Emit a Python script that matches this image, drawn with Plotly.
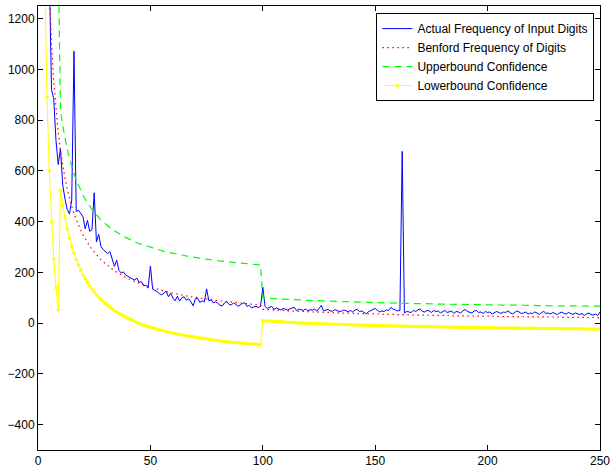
import plotly.graph_objects as go

# digit index on the x axis (1-9 first digit, 10-99 first two, 100-250 first three)
digits = list(range(1, 251))

actual = [
    4900, 2850, 2000, 1560, 1400, 921, 884, 720, 625,
    688, 545, 490, 448, 430, 485, 1072, 440, 445, 432,
    420, 372, 405, 362, 368, 514, 320, 350, 302, 290,
    280, 274, 282, 250, 224, 248, 208, 198, 202, 190,
    184, 178, 174, 170, 177, 160, 164, 147, 150, 138,
    225, 134, 130, 124, 116, 112, 118, 126, 104, 118,
    99, 88, 106, 87, 100, 104, 90, 96, 84, 68,
    96, 98, 82, 88, 84, 135, 88, 92, 80, 84,
    78, 70, 68, 80, 85, 74, 72, 80, 74, 66,
    72, 78, 80, 66, 70, 60, 64, 66, 62, 66,
    142, 66, 58, 62, 66, 54, 60, 56, 52, 58,
    55, 52, 56, 60, 63, 49, 55, 53, 50, 56,
    49, 53, 51, 56, 47, 58, 70, 48, 52, 54,
    48, 47, 53, 50, 46, 47, 52, 49, 45, 50,
    44, 52, 54, 46, 48, 42, 37, 45, 50, 54,
    58, 50, 44, 48, 46, 52, 50, 62, 55, 52,
    48, 50, 677, 40, 46, 44, 42, 50, 46, 52,
    56, 46, 44, 50, 48, 42, 50, 46, 48, 40,
    44, 50, 42, 46, 48, 38, 46, 44, 40, 48,
    54, 46, 44, 40, 48, 50, 42, 44, 38, 46,
    42, 44, 36, 40, 46, 42, 38, 44, 42, 48,
    40, 36, 42, 48, 44, 38, 40, 44, 36, 40,
    38, 44, 40, 34, 42, 46, 38, 40, 36, 42,
    38, 34, 40, 44, 38, 36, 42, 38, 34, 40,
    36, 34, 38, 30, 36, 40, 34, 32, 36, 30,
    44,
]

benford = [
    4946, 2893, 2053, 1592, 1301, 1100, 953, 840, 752,
    680, 620, 571, 529, 492, 460, 432, 408, 386, 366,
    348, 332, 317, 304, 291, 280, 269, 259, 250, 242,
    234, 227, 220, 213, 207, 201, 195, 190, 185, 181,
    176, 172, 168, 164, 160, 157, 153, 150, 147, 144,
    141, 139, 136, 133, 131, 129, 126, 124, 122, 120,
    118, 116, 114, 112, 111, 109, 107, 106, 104, 103,
    101, 100, 98, 97, 96, 95, 93, 92, 91, 90,
    89, 88, 86, 85, 84, 83, 82, 81, 81, 80,
    79, 78, 77, 76, 75, 75, 74, 73, 72, 72,
    54, 54, 53, 53, 52, 52, 51, 51, 50, 50,
    49, 49, 48, 48, 47, 47, 47, 46, 46, 45,
    45, 45, 44, 44, 44, 43, 43, 43, 42, 42,
    42, 41, 41, 41, 40, 40, 40, 40, 39, 39,
    39, 38, 38, 38, 38, 37, 37, 37, 37, 36,
    36, 36, 36, 35, 35, 35, 35, 35, 34, 34,
    34, 34, 33, 33, 33, 33, 33, 32, 32, 32,
    32, 32, 32, 31, 31, 31, 31, 31, 30, 30,
    30, 30, 30, 30, 29, 29, 29, 29, 29, 29,
    29, 28, 28, 28, 28, 28, 28, 28, 27, 27,
    27, 27, 27, 27, 27, 26, 26, 26, 26, 26,
    26, 26, 26, 25, 25, 25, 25, 25, 25, 25,
    25, 25, 24, 24, 24, 24, 24, 24, 24, 24,
    24, 24, 23, 23, 23, 23, 23, 23, 23, 23,
    23, 23, 22, 22, 22, 22, 22, 22, 22, 22,
    22,
]

upper = [
    5646, 3593, 2753, 2292, 2001, 1800, 1653, 1540, 1452,
    837, 777, 728, 686, 649, 617, 589, 565, 543, 523,
    505, 489, 474, 461, 448, 437, 426, 416, 407, 399,
    391, 384, 377, 370, 364, 358, 352, 347, 342, 338,
    333, 329, 325, 321, 317, 314, 310, 307, 304, 301,
    298, 296, 293, 290, 288, 286, 283, 281, 279, 277,
    275, 273, 271, 269, 268, 266, 264, 263, 261, 260,
    258, 257, 255, 254, 253, 252, 250, 249, 248, 247,
    246, 245, 243, 242, 241, 240, 239, 238, 238, 237,
    236, 235, 234, 233, 232, 232, 231, 230, 229, 229,
    99, 99, 98, 98, 97, 97, 96, 96, 95, 95,
    94, 94, 93, 93, 92, 92, 92, 91, 91, 90,
    90, 90, 89, 89, 89, 88, 88, 88, 87, 87,
    87, 86, 86, 86, 85, 85, 85, 85, 84, 84,
    84, 83, 83, 83, 83, 82, 82, 82, 82, 81,
    81, 81, 81, 80, 80, 80, 80, 80, 79, 79,
    79, 79, 78, 78, 78, 78, 78, 77, 77, 77,
    77, 77, 77, 76, 76, 76, 76, 76, 75, 75,
    75, 75, 75, 75, 74, 74, 74, 74, 74, 74,
    74, 73, 73, 73, 73, 73, 73, 73, 72, 72,
    72, 72, 72, 72, 72, 71, 71, 71, 71, 71,
    71, 71, 71, 70, 70, 70, 70, 70, 70, 70,
    70, 70, 69, 69, 69, 69, 69, 69, 69, 69,
    69, 69, 68, 68, 68, 68, 68, 68, 68, 68,
    68, 68, 67, 67, 67, 67, 67, 67, 67, 67,
    67,
]

lower = [
    4246, 2193, 1353, 892, 601, 400, 253, 140, 52,
    523, 463, 414, 372, 335, 303, 275, 251, 229, 209,
    191, 175, 160, 147, 134, 123, 112, 102, 93, 85,
    77, 70, 63, 56, 50, 44, 38, 33, 28, 24,
    19, 15, 11, 7, 3, 0, -4, -7, -10, -13,
    -16, -18, -21, -24, -26, -28, -31, -33, -35, -37,
    -39, -41, -43, -45, -46, -48, -50, -51, -53, -54,
    -56, -57, -59, -60, -61, -62, -64, -65, -66, -67,
    -68, -69, -71, -72, -73, -74, -75, -76, -76, -77,
    -78, -79, -80, -81, -82, -82, -83, -84, -85, -85,
    9, 9, 8, 8, 7, 7, 6, 6, 5, 5,
    4, 4, 3, 3, 2, 2, 2, 1, 1, 0,
    0, 0, -1, -1, -1, -2, -2, -2, -3, -3,
    -3, -4, -4, -4, -5, -5, -5, -5, -6, -6,
    -6, -7, -7, -7, -7, -8, -8, -8, -8, -9,
    -9, -9, -9, -10, -10, -10, -10, -10, -11, -11,
    -11, -11, -12, -12, -12, -12, -12, -13, -13, -13,
    -13, -13, -13, -14, -14, -14, -14, -14, -15, -15,
    -15, -15, -15, -15, -16, -16, -16, -16, -16, -16,
    -16, -17, -17, -17, -17, -17, -17, -17, -18, -18,
    -18, -18, -18, -18, -18, -19, -19, -19, -19, -19,
    -19, -19, -19, -20, -20, -20, -20, -20, -20, -20,
    -20, -20, -21, -21, -21, -21, -21, -21, -21, -21,
    -21, -21, -22, -22, -22, -22, -22, -22, -22, -22,
    -22, -22, -23, -23, -23, -23, -23, -23, -23, -23,
    -23,
]

font_family = "Liberation Sans, Arial, Helvetica, sans-serif"

fig = go.Figure()
fig.add_trace(go.Scatter(
    x=digits, y=actual, mode="lines",
    name="Actual Frequency of Input Digits",
    line=dict(color="#0000ff", width=1),
))
fig.add_trace(go.Scatter(
    x=digits, y=benford, mode="lines",
    name="Benford Frequency of Digits",
    line=dict(color="#ff0000", width=1.2, dash="1.5px,3.5px"),
))
fig.add_trace(go.Scatter(
    x=digits, y=upper, mode="lines",
    name="Upperbound Confidence",
    line=dict(color="#00ff00", width=1.2, dash="7px,5px"),
))
fig.add_trace(go.Scatter(
    x=digits, y=lower, mode="lines+markers",
    name="Lowerbound Confidence",
    line=dict(color="#ffff00", width=1),
    marker=dict(color="#ffff00", size=3.5, symbol="circle"),
))

axis_style = dict(
    showline=True, linecolor="black", linewidth=1, mirror="ticks",
    ticks="inside", ticklen=5, tickcolor="black", tickwidth=1,
    showgrid=False, zeroline=False, ticklabeloverflow="allow",
    tickfont=dict(size=12, color="black", family=font_family),
)
fig.update_xaxes(range=[0, 250], tickvals=[0, 50, 100, 150, 200, 250], **axis_style)
fig.update_yaxes(range=[-500, 1250],
                 tickvals=[-400, -200, 0, 200, 400, 600, 800, 1000, 1200], **axis_style)

fig.update_layout(
    width=615, height=473,
    paper_bgcolor="white", plot_bgcolor="white",
    margin=dict(l=38, r=10, t=5, b=21),
    font=dict(family=font_family, size=12, color="black"),
    legend=dict(
        x=0.99, y=0.984, xanchor="right", yanchor="top",
        bgcolor="white", bordercolor="black", borderwidth=1,
        font=dict(size=12, color="black", family=font_family),
    ),
)

# the page body has a default 8px margin; drop it so the figure sits at the corner
fig.write_html("out.html", config={"displayModeBar": False},
               post_script="document.body.style.margin='0';")
